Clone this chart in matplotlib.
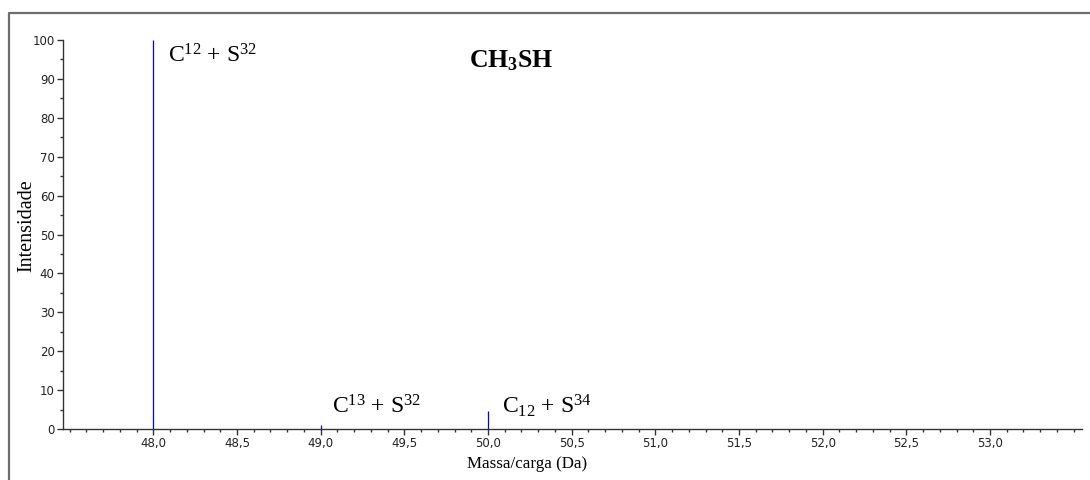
import matplotlib
matplotlib.use("Agg")
import matplotlib.pyplot as plt
from matplotlib.ticker import MultipleLocator
from matplotlib.lines import Line2D

# dados do espectro
massas = [48.0, 49.0, 50.0]
intensidades = [100.0, 1.1, 4.6]
rotulos = ["C$^{12}$ + S$^{32}$",
           "C$^{13}$ + S$^{32}$",
           "C$_{12}$ + S$^{34}$"]
rotulo_x = [48.09, 49.07, 50.085]
rotulo_y = [94.3, 4.0, 4.0]
ticks_x = [48.0, 48.5, 49.0, 49.5, 50.0, 50.5, 51.0, 51.5, 52.0, 52.5, 53.0]
ticks_x_rot = ["48,0", "48,5", "49,0", "49,5", "50,0", "50,5", "51,0", "51,5",
               "52,0", "52,5", "53,0"]
ticks_y = [0, 10, 20, 30, 40, 50, 60, 70, 80, 90, 100]

plt.rcParams['mathtext.fontset'] = 'custom'
plt.rcParams['mathtext.rm'] = 'Liberation Serif'
plt.rcParams['mathtext.it'] = 'Liberation Serif:italic'
plt.rcParams['mathtext.bf'] = 'Liberation Serif:bold'

fig = plt.figure(figsize=(10.9, 4.8), dpi=100)
ax = fig.add_axes([63/1090, 1 - 429/480, 1019/1090, 389/480])

ax.vlines(massas, 0, intensidades, color='#0000ff', lw=0.9)

for x, y, r in zip(rotulo_x, rotulo_y, rotulos):
    ax.text(x, y, r, fontsize=17, va='baseline', ha='left', color='black',
            family='Liberation Serif')

ax.text(50.14, 93.0, r"$\mathbf{CH_3SH}$", fontsize=18.5, ha='center', va='baseline')

ax.set_xlim(47.46, 53.55)
ax.set_ylim(0, 100)

ax.set_xticks(ticks_x)
ax.set_xticklabels(ticks_x_rot)
ax.set_yticks(ticks_y)
ax.xaxis.set_minor_locator(MultipleLocator(0.1))
ax.yaxis.set_minor_locator(MultipleLocator(5))

ax.tick_params(axis='both', which='major', length=4, width=1, labelsize=8.5,
               labelcolor='#222222', color='#333333', pad=2)
ax.tick_params(axis='both', which='minor', length=2.5, width=1, color='#333333')

for lado in ['top', 'right']:
    ax.spines[lado].set_visible(False)
for lado in ['left', 'bottom']:
    ax.spines[lado].set_color('#333333')
    ax.spines[lado].set_linewidth(1)

ax.set_xlabel("Massa/carga (Da)", family='Liberation Serif', fontsize=12.2)
ax.set_ylabel("Intensidade", family='Liberation Serif', fontsize=14.5)
ax.xaxis.set_label_coords(0.455, -0.07)
ax.yaxis.set_label_coords(-0.026, 0.524)

# moldura da figura
fx = 8.5 / 1090
fy = 1 - 13 / 480
fig.add_artist(Line2D([fx, fx, 1.0], [0.0, fy, fy], transform=fig.transFigure,
                      color='#6e6e6e', lw=1.6))

fig.savefig("out.png", dpi=100)
